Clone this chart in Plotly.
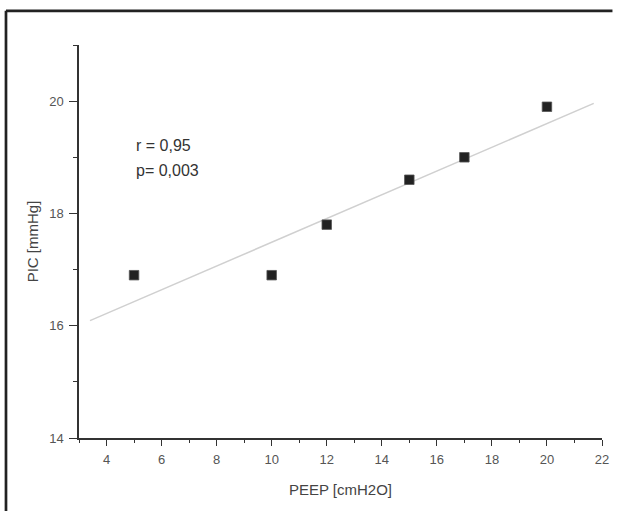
import plotly.graph_objects as go

# data
peep = [5, 10, 12, 15, 17, 20]
pic = [16.9, 16.9, 17.8, 18.6, 19.0, 19.9]

# regression line endpoints (as drawn)
fit_x = [3.4, 21.7]
fit_y = [16.09, 19.96]

x_ticks = [4, 6, 8, 10, 12, 14, 16, 18, 20, 22]
y_ticks = [14, 16, 18, 20]

r_text = "r = 0,95"
p_text = "p= 0,003"

FONT = "Liberation Sans, Arial, sans-serif"
AXIS_COLOR = "#333333"
TICK_FONT = dict(size=13, color="#555555")
TITLE_FONT = dict(size=15, color="#444444")
FRAME = dict(color="#222222", width=2.7)

fig = go.Figure()
fig.add_trace(
    go.Scatter(
        x=fit_x,
        y=fit_y,
        mode="lines",
        line=dict(color="#d0d0d0", width=1.5),
        hoverinfo="skip",
    )
)
fig.add_trace(
    go.Scatter(
        x=peep,
        y=pic,
        mode="markers",
        marker=dict(symbol="square", size=9.5, color="#222222",
                    line=dict(color="#555555", width=0.8)),
    )
)

axis_common = dict(
    showgrid=False,
    zeroline=False,
    showline=True,
    linecolor=AXIS_COLOR,
    linewidth=1.5,
    ticks="outside",
    tickwidth=1.2,
    tickcolor=AXIS_COLOR,
    tickfont=TICK_FONT,
)

fig.update_layout(
    width=618,
    height=511,
    margin=dict(l=79, r=9, t=45, b=73),
    paper_bgcolor="white",
    plot_bgcolor="white",
    showlegend=False,
    font=dict(family=FONT, color="#444444"),
    xaxis=dict(
        **axis_common,
        range=[3, 22],
        tickvals=x_ticks,
        ticklen=6,
        ticklabelstandoff=3,
        minor=dict(dtick=1, tick0=0, ticks="outside", ticklen=3,
                   tickcolor=AXIS_COLOR, showgrid=False),
        title=dict(text="PEEP [cmH2O]", font=TITLE_FONT, standoff=18),
    ),
    yaxis=dict(
        **axis_common,
        range=[14, 21],
        tickvals=y_ticks,
        ticklen=8,
        ticklabelstandoff=3,
        minor=dict(dtick=1, tick0=0, ticks="outside", ticklen=4,
                   tickcolor=AXIS_COLOR, showgrid=False),
        title=dict(text="PIC [mmHg]", font=TITLE_FONT, standoff=7),
    ),
    annotations=[
        dict(text=r_text, xref="paper", yref="paper", x=0.105, y=0.745,
             xanchor="left", yanchor="middle", showarrow=False,
             font=dict(size=16, color="#333333")),
        dict(text=p_text, xref="paper", yref="paper", x=0.105, y=0.68,
             xanchor="left", yanchor="middle", showarrow=False,
             font=dict(size=16, color="#333333")),
    ],
    shapes=[
        # outer frame of the figure panel: only left and top edges are in view
        dict(type="line", xref="paper", yref="paper",
             x0=-0.1396, x1=-0.1396, y0=-0.2, y1=1.087, line=FRAME),
        dict(type="line", xref="paper", yref="paper",
             x0=-0.1396, x1=1.02, y0=1.087, y1=1.087, line=FRAME),
    ],
)

fig.write_html(
    "out.html",
    config={"displayModeBar": False},
    post_script="document.body.style.margin='0';document.body.style.overflow='hidden';",
)
